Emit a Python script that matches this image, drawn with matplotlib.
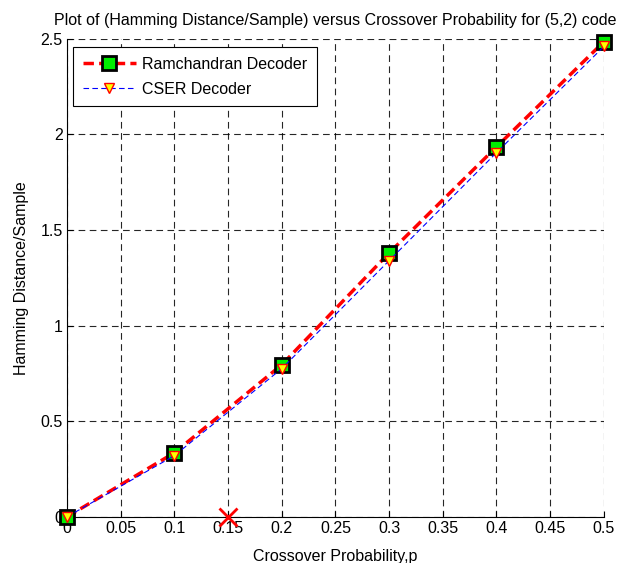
import matplotlib
matplotlib.use('Agg')
import matplotlib.pyplot as plt
import numpy as np

plt.rcParams['font.family'] = ['Liberation Sans', 'DejaVu Sans']

p = [0, 0.1, 0.2, 0.3, 0.4, 0.5]
ramchandran = [0, 0.335, 0.795, 1.38, 1.935, 2.485]
cser = [0, 0.32, 0.775, 1.34, 1.905, 2.46]
xticks = [0, 0.05, 0.1, 0.15, 0.2, 0.25, 0.3, 0.35, 0.4, 0.45, 0.5]
yticks = [0, 0.5, 1, 1.5, 2, 2.5]
cross_x = [0.15]
cross_y = [0]

fig = plt.figure(figsize=(6.2, 5.63), dpi=100)
ax = fig.add_axes([0.108, 0.082, 0.866, 0.849])

ax.plot(p, ramchandran, color='red', linestyle='--', linewidth=2.5, dashes=(3, 1.5),
        marker='s', markersize=10, markerfacecolor='#00ee00', markeredgecolor='black',
        markeredgewidth=2, label='Ramchandran Decoder', clip_on=False, zorder=3)
ax.plot(p, cser, color='blue', linestyle='--', linewidth=0.8, dashes=(5, 3),
        marker='v', markersize=6.5, markerfacecolor='yellow', markeredgecolor='red',
        markeredgewidth=1, label='CSER Decoder', clip_on=False, zorder=4)
ax.plot(cross_x, cross_y, linestyle='none', marker='x', color='red', markersize=13,
        markeredgewidth=2, clip_on=False, zorder=5)

ax.set_xlim(0, 0.5)
ax.set_ylim(0, 2.5)
ax.set_xticks(xticks)
ax.set_xticklabels(['0', '0.05', '0.1', '0.15', '0.2', '0.25', '0.3', '0.35', '0.4', '0.45', '0.5'])
ax.set_yticks(yticks)
ax.set_yticklabels(['0', '0.5', '1', '1.5', '2', '2.5'])
ax.tick_params(direction='in', labelsize=11.5, length=4, width=0.8, colors='black', pad=3)
ax.grid(True, color='black', linestyle='--', linewidth=0.8, dashes=(6, 4), alpha=0.85)
ax.spines['top'].set_visible(False)
ax.spines['right'].set_visible(False)
ax.spines['left'].set_linewidth(0.8)
ax.spines['bottom'].set_linewidth(0.8)

ax.set_title('Plot of (Hamming Distance/Sample) versus Crossover Probability for (5,2) code',
             fontsize=11.5, pad=10)
ax.set_xlabel('Crossover Probability,p', fontsize=11.5, labelpad=9)
ax.set_ylabel('Hamming Distance/Sample', fontsize=11.5, labelpad=8)

leg = ax.legend(loc='upper left', bbox_to_anchor=(0.012, 0.982), fontsize=11.5, fancybox=False,
                edgecolor='black', framealpha=1, handlelength=3.3, handletextpad=0.4,
                borderpad=0.6, labelspacing=0.6, borderaxespad=0)
leg.get_frame().set_linewidth(0.8)

fig.savefig('out.png', dpi=100)
